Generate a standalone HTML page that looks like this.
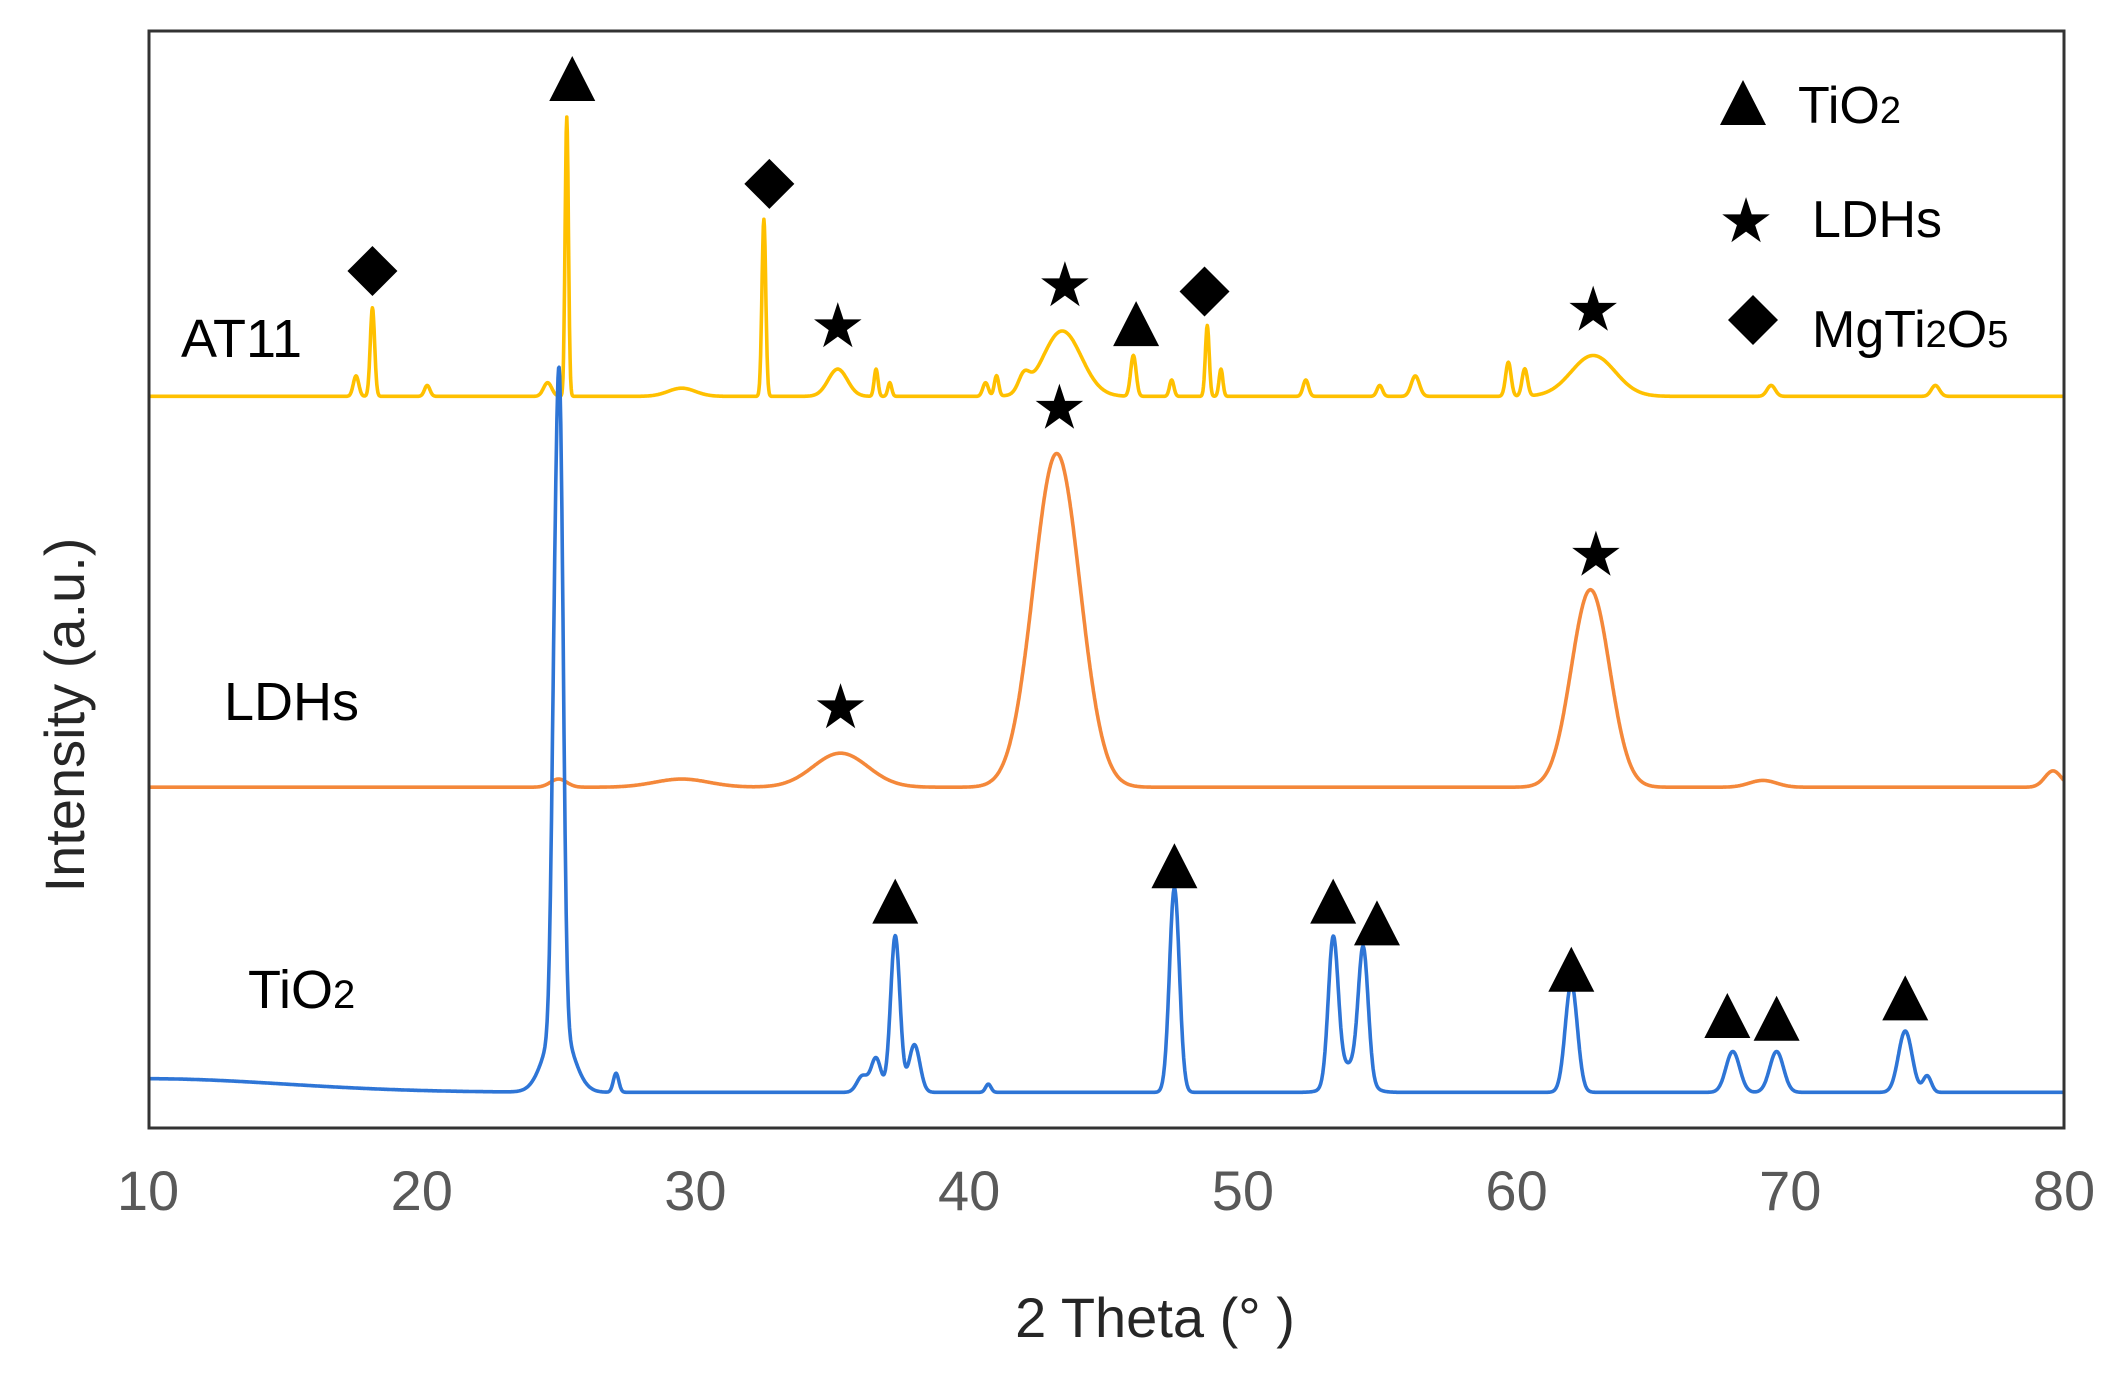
<!DOCTYPE html>
<html><head><meta charset="utf-8"><style>
html,body{margin:0;padding:0;background:#fff;}
svg{display:block;}
text{font-family:"Liberation Sans",sans-serif;}
</style></head><body>
<svg id="chart" width="2125" height="1376" viewBox="0 0 2125 1376">
<rect x="0" y="0" width="2125" height="1376" fill="#fff"/>
<g id="series"></g>
<g id="markers"></g>
<rect x="149" y="31" width="1915" height="1097" fill="none" stroke="#333" stroke-width="3"/>
<g id="xticks"></g>
<text x="1155" y="1337" font-size="56" fill="#262626" text-anchor="middle">2 Theta (° )</text>
<text x="0" y="0" font-size="56" fill="#262626" text-anchor="middle" transform="translate(84,715) rotate(-90)">Intensity (a.u.)</text>
<text x="181" y="357" font-size="54" fill="#000">AT11</text>
<text x="224" y="720" font-size="54" fill="#000">LDHs</text>
<text x="248" y="1008" font-size="54" fill="#000">TiO<tspan font-size="40">2</tspan></text>
<g>
<polygon points="1743,80 1766,125 1720,125" fill="#000"/>
<text x="1798" y="123" font-size="52" fill="#000">TiO<tspan font-size="38">2</tspan></text>
<text x="1746" y="242" font-size="62" text-anchor="middle" fill="#000">★</text>
<text x="1812" y="237" font-size="52" fill="#000">LDHs</text>
<polygon points="1753,295 1778,320 1753,345 1728,320" fill="#000"/>
<text x="1812" y="347" font-size="52" fill="#000">MgTi<tspan font-size="38">2</tspan>O<tspan font-size="38">5</tspan></text>
</g>
</svg>
<script>
// x-axis
const xTicks = [10,20,30,40,50,60,70,80];
// peaks: [2theta, height, width]
const at11Peaks = [[17.6,15,0.1],[18.2,65,0.08],[20.2,8,0.1],[24.6,10,0.15],[25.3,205,0.06],[29.5,6,0.5],[32.5,130,0.07],[35.2,20,0.35],[36.6,20,0.07],[37.1,10,0.07],[40.6,10,0.1],[41.0,15,0.08],[42.0,12,0.2],[43.4,48,0.7],[46.0,30,0.1],[47.4,12,0.08],[48.7,52,0.07],[49.2,20,0.07],[52.3,12,0.1],[55.0,8,0.1],[56.3,15,0.15],[59.7,25,0.1],[60.3,20,0.1],[62.8,30,0.8],[69.3,8,0.15],[75.3,8,0.15]];
const ldhPeaks = [[25.0,6,0.3],[29.5,6,1.0],[35.3,25,1.0],[43.2,245,0.85],[62.7,145,0.7],[69.0,5,0.5],[79.6,12,0.3]];
const tioPeaks = [[10,10,5],[24.85,200,0.12],[25.05,420,0.13],[25.0,50,0.5],[27.1,14,0.1],[36.1,12,0.2],[36.6,25,0.18],[37.3,115,0.17],[38.0,35,0.2],[40.7,6,0.1],[47.5,150,0.18],[53.3,105,0.18],[54.4,95,0.18],[53.9,20,0.5],[62.0,80,0.22],[67.9,30,0.25],[69.5,30,0.25],[74.2,45,0.25],[75.0,12,0.15]];
const seriesBase = [291,578,802];
// markers: [type, 2theta, y (display units)]
const markerList = [["d",18.2,199],["t",25.5,58],["d",32.7,135],["s",35.2,240],["s",43.5,210],["t",46.1,238],["d",48.6,214],["s",62.8,228],
["s",43.3,300],["s",35.3,520],["s",62.9,408],
["t",37.3,662],["t",47.5,636],["t",53.3,662],["t",54.9,678],["t",62.0,712],["t",67.7,746],["t",69.5,748],["t",74.2,733]];

const K = 1.362;
const X0 = 148, X1 = 2064;
function xs(v){return X0 + (v-10)/70*(X1-X0);}
function ys(base, I){return (base - I)*K;}
const NS='http://www.w3.org/2000/svg';

const tg=document.getElementById('xticks');
xTicks.forEach(t=>{
  const e=document.createElementNS(NS,'text');
  
  
  e.setAttribute('x',xs(t)); e.setAttribute('y',1210);
  e.setAttribute('font-size','56'); e.setAttribute('fill','#595959');
  e.setAttribute('text-anchor','middle'); e.textContent=t; tg.appendChild(e);
});

function curve(peaks, base){
  let d='';
  for(let v=10; v<=80.0001; v+=0.02){
    let I=0;
    peaks.forEach(p=>{const z=(v-p[0])/p[2]; I+=p[1]*Math.exp(-0.5*z*z);});
    d+=(d?'L':'M')+xs(v).toFixed(1)+','+ys(base,I).toFixed(1);
  }
  return d;
}
const sg=document.getElementById('series');
const defs=[[at11Peaks,seriesBase[0],'#FFC000','series-at11'],[ldhPeaks,seriesBase[1],'#F4883A','series-ldhs'],[tioPeaks,seriesBase[2],'#2E75D6','series-tio2']];
defs.forEach(s=>{
  const p=document.createElementNS(NS,'path');
  
  
  p.setAttribute('d',curve(s[0],s[1]));
  p.setAttribute('fill','none'); p.setAttribute('stroke',s[2]);
  p.setAttribute('stroke-width','3.6'); p.setAttribute('stroke-linejoin','round');
  sg.appendChild(p);
});

const mg=document.getElementById('markers');
markerList.forEach(m=>{
  const cx=xs(m[1]), cy=m[2]*K;
  let e;
  if(m[0]==='t'){
    e=document.createElementNS(NS,'polygon');
    e.setAttribute('points',`${cx},${cy-23} ${cx+23},${cy+22} ${cx-23},${cy+22}`);
    
  } else if(m[0]==='d'){
    e=document.createElementNS(NS,'polygon');
    e.setAttribute('points',`${cx},${cy-25} ${cx+25},${cy} ${cx},${cy+25} ${cx-25},${cy}`);
    
  } else {
    e=document.createElementNS(NS,'text');
    e.setAttribute('x',cx); e.setAttribute('y',cy+20);
    e.setAttribute('font-size','62'); e.setAttribute('text-anchor','middle');
    e.textContent='★';
    
  }
  
  e.setAttribute('fill','#000');
  mg.appendChild(e);
});
</script>
</body></html>
